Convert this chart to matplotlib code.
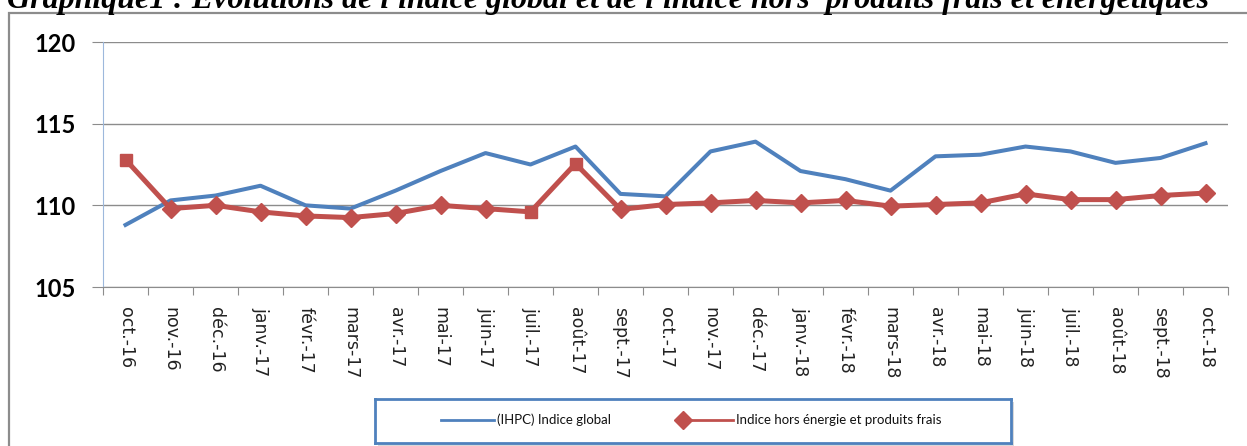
import matplotlib.pyplot as plt
from matplotlib.patches import Rectangle
from matplotlib.lines import Line2D

# Data
mois = ['oct.-16', 'nov.-16', 'déc.-16', 'janv.-17', 'févr.-17', 'mars-17', 'avr.-17',
        'mai-17', 'juin-17', 'juil.-17', 'août-17', 'sept.-17', 'oct.-17', 'nov.-17',
        'déc.-17', 'janv.-18', 'févr.-18', 'mars-18', 'avr.-18', 'mai-18', 'juin-18',
        'juil.-18', 'août-18', 'sept.-18', 'oct.-18']
indice_global = [108.8, 110.3, 110.6, 111.2, 110.0, 109.8, 110.9, 112.1, 113.2, 112.5,
                 113.6, 110.7, 110.55, 113.3, 113.9, 112.1, 111.6, 110.9, 113.0, 113.1,
                 113.6, 113.3, 112.6, 112.9, 113.8]
indice_hors = [112.8, 109.8, 110.0, 109.6, 109.35, 109.25, 109.5, 110.0, 109.8, 109.6,
               112.55, 109.75, 110.05, 110.15, 110.3, 110.15, 110.3, 109.95, 110.05, 110.15,
               110.7, 110.35, 110.35, 110.6, 110.75]
points_carres = [0, 9, 10]  # points drawn as squares in the original

bleu = '#4F81BD'
rouge = '#C0504D'
W, H = 1247, 446

fig = plt.figure(figsize=(W / 100, H / 100), dpi=100)

# outer chart frame
fig.patches.append(Rectangle((8.5 / W, -0.05), 1.1, 1 - 13 / H + 0.05,
                             transform=fig.transFigure, fill=False,
                             edgecolor='#8c8c8c', linewidth=1.6))

fig.text(7 / W, 1 - 8 / H, "Graphique1 : Evolutions de l'indice global et de l'indice hors  produits frais et énergétiques",
         family='Liberation Serif', weight='bold', style='italic', fontsize=23,
         ha='left', va='baseline')

ax = fig.add_axes([103 / W, 1 - 287 / H, (1228 - 103) / W, (287 - 42) / H])
x = list(range(len(mois)))

ax.plot(x, indice_global, color=bleu, linewidth=2.9)
ax.plot(x, indice_hors, color=rouge, linewidth=3.6, marker='D', markersize=9.5,
        markeredgecolor=rouge, markevery=[i for i in x if i not in points_carres])
ax.plot([x[i] for i in points_carres], [indice_hors[i] for i in points_carres],
        linestyle='none', marker='s', markersize=8.5, color=rouge)

ax.set_xlim(-0.5, len(mois) - 0.5)
ax.set_ylim(105, 120)
ax.set_yticks([105, 110, 115, 120])
ax.yaxis.grid(True, color='#8c8c8c', linewidth=1)
ax.set_axisbelow(True)

ax.set_xticks([i - 0.5 for i in range(len(mois) + 1)])
ax.set_xticklabels([])
ax.set_xticks(x, minor=True)
ax.set_xticklabels(mois, minor=True, rotation=270, family='DejaVu Sans', fontsize=12.5,
                   color='#222222')
ax.tick_params(axis='x', which='major', length=6, color='#8c8c8c', direction='out')
ax.tick_params(axis='x', which='minor', length=0, pad=14.5)
ax.tick_params(axis='y', length=8, color='#8c8c8c', pad=11.5)
for lab in ax.get_yticklabels():
    lab.set_family('Lato')
    lab.set_fontsize(17)
    lab.set_weight('bold')

for s in ['top', 'right']:
    ax.spines[s].set_visible(False)
ax.spines['left'].set_color('#9db8dc')
ax.spines['bottom'].set_color('#8c8c8c')

# legend box with a soft shadow
fig.patches.append(Rectangle((378 / W, 1 - 446 / H), (1014 - 378) / W, (446 - 402) / H,
                             transform=fig.transFigure, facecolor='#d9d9d9',
                             edgecolor='none', zorder=-1))
lax = fig.add_axes([375 / W, 1 - 443 / H, (1011 - 375) / W, (443 - 399) / H])
lax.set_zorder(2)
lax.set_xlim(375, 1011)
lax.set_ylim(443, 399)
lax.set_xticks([])
lax.set_yticks([])
for s in lax.spines.values():
    s.set_color(bleu)
    s.set_linewidth(2)
lax.add_line(Line2D([441, 494], [420, 420], color=bleu, linewidth=2))
lax.text(497, 420, '(IHPC) Indice global', family='Lato', fontsize=9.5,
         va='center', ha='left', color='#111111')
lax.add_line(Line2D([683, 733], [420, 420], color=rouge, linewidth=2))
lax.plot([683], [420], marker='D', markersize=9, color=rouge)
lax.text(736, 420, 'Indice hors énergie et produits frais', family='Lato',
         fontsize=9.5, va='center', ha='left', color='#111111')

fig.savefig('out.png', dpi=100)
